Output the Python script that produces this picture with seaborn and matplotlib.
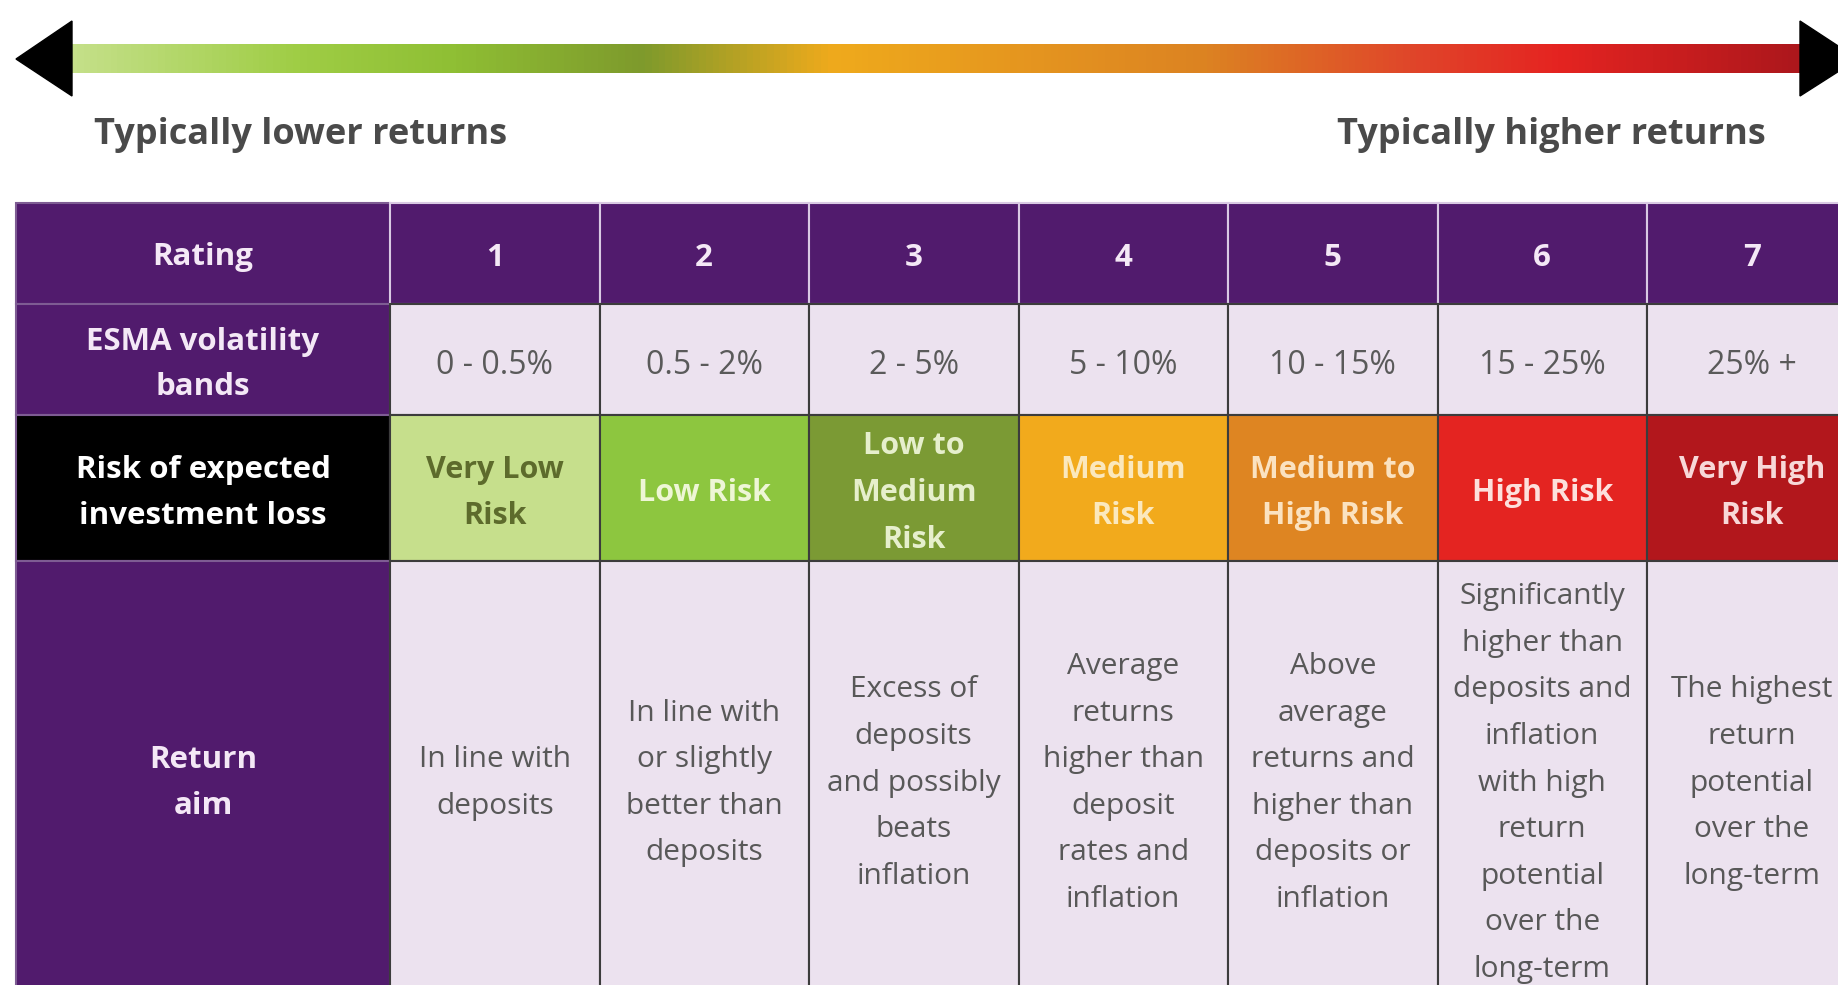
import numpy as np
import matplotlib
matplotlib.use("Agg")
import matplotlib.pyplot as plt
import seaborn as sns
from matplotlib.colors import LinearSegmentedColormap
from matplotlib.patches import Polygon

# table content
row_titles = ["Rating", "ESMA volatility\nbands", "Risk of expected\ninvestment loss", "Return\naim"]
ratings = ["1", "2", "3", "4", "5", "6", "7"]
bands = ["0 - 0.5%", "0.5 - 2%", "2 - 5%", "5 - 10%", "10 - 15%", "15 - 25%", "25% +"]
risk_labels = ["Very Low\nRisk", "Low Risk", "Low to\nMedium\nRisk", "Medium\nRisk",
               "Medium to\nHigh Risk", "High Risk", "Very High\nRisk"]
return_aims = [
    "In line with\ndeposits",
    "In line with\nor slightly\nbetter than\ndeposits",
    "Excess of\ndeposits\nand possibly\nbeats\ninflation",
    "Average\nreturns\nhigher than\ndeposit\nrates and\ninflation",
    "Above\naverage\nreturns and\nhigher than\ndeposits or\ninflation",
    "Significantly\nhigher than\ndeposits and\ninflation\nwith high\nreturn\npotential\nover the\nlong-term",
    "The highest\nreturn\npotential\nover the\nlong-term",
]

# colours
purple = "#511b6d"
lavender = "#ece2ef"
risk_colors = ["#c6df8c", "#8dc63f", "#7b9a34", "#f2aa1c", "#de8522", "#e42421", "#b2171c"]
risk_text = ["#5d6b2c", "#eef6d6", "#e6efcc", "#fbe8bd", "#fbe2c0", "#fde0dc", "#f8d8d8"]
title_bg = [purple, purple, "#000000", purple]
grad_colors = [(0.0, "#c5e08a"), (0.13, "#9fcd45"), (0.22, "#8fbf34"), (0.33, "#7e9a2c"),
               (0.44, "#efaa1c"), (0.655, "#dc8322"), (0.78, "#e0442a"), (0.86, "#e52421"),
               (1.0, "#ac171c")]

sns.set_theme(style="white")
plt.rcParams["font.family"] = ["Open Sans", "DejaVu Sans"]

fig = plt.figure(figsize=(18.38, 9.85), dpi=100)
ax = fig.add_axes([0, 0, 1, 1])
ax.set_xlim(0, 1838)
ax.set_ylim(985, 0)
ax.axis("off")

# arrow with gradient
cmap = LinearSegmentedColormap.from_list("risk", grad_colors)
grad = np.linspace(0, 1, 512).reshape(1, -1)
ax.imshow(grad, cmap=cmap, aspect="auto", extent=[70, 1802, 73, 44], zorder=1)
ax.add_patch(Polygon([[16, 59], [72, 21], [72, 96]], closed=True, color="black", zorder=2))
ax.add_patch(Polygon([[1800, 21], [1800, 96], [1858, 59]], closed=True, color="black", zorder=2))
ax.text(94, 135, "Typically lower returns", fontsize=26, fontweight="bold",
        color="#4a4a4a", ha="left", va="center")
ax.text(1766, 135, "Typically higher returns", fontsize=26, fontweight="bold",
        color="#4a4a4a", ha="right", va="center")

# layout
row_top = np.array([203, 304, 415, 561])
row_h = np.array([101, 111, 146, 440])
title_x, title_w = 16, 374
col_w = 209.5
col_x = title_x + title_w + col_w * np.arange(len(ratings))

# title column
ax.bar(np.full(4, title_x), row_h, width=title_w, bottom=row_top, align="edge",
       color=title_bg, edgecolor="#7e5c93", linewidth=1.5, zorder=3)
title_dy = [4, 5, 5, 2]
for i, t in enumerate(row_titles):
    ax.text(title_x + title_w / 2, row_top[i] + row_h[i] / 2 + title_dy[i], t,
            fontsize=22.5, fontweight="bold", color="#f4e8f6" if i != 2 else "white",
            ha="center", va="center", linespacing=1.68, zorder=4)

# data rows
ax.bar(col_x, row_h[0], width=col_w, bottom=row_top[0], align="edge",
       color=purple, edgecolor="#d9c9e3", linewidth=1.5, zorder=3)
ax.bar(col_x, row_h[1], width=col_w, bottom=row_top[1], align="edge",
       color=lavender, edgecolor="#3c3c3c", linewidth=1.5, zorder=3)
ax.bar(col_x, row_h[2], width=col_w, bottom=row_top[2], align="edge",
       color=risk_colors, edgecolor="#3c3c3c", linewidth=1.5, zorder=3)
ax.bar(col_x, row_h[3], width=col_w, bottom=row_top[3], align="edge",
       color=lavender, edgecolor="#3c3c3c", linewidth=1.5, zorder=3)

cx = col_x + col_w / 2
for i in range(len(ratings)):
    ax.text(cx[i], row_top[0] + row_h[0] / 2 + 4, ratings[i], fontsize=22.5, fontweight="bold",
            color="#f4e8f6", ha="center", va="center", zorder=4)
    ax.text(cx[i], row_top[1] + row_h[1] / 2 + 6, bands[i], fontsize=23,
            color="#5a5a5a", ha="center", va="center", zorder=4)
    ax.text(cx[i], row_top[2] + row_h[2] / 2 + 5, risk_labels[i], fontsize=22, fontweight="bold",
            color=risk_text[i], ha="center", va="center", linespacing=1.72, zorder=4)
    ax.text(cx[i], 783, return_aims[i], fontsize=21.5,
            color="#585858", ha="center", va="center", linespacing=1.8, zorder=4)

fig.savefig("out.png", dpi=100)
